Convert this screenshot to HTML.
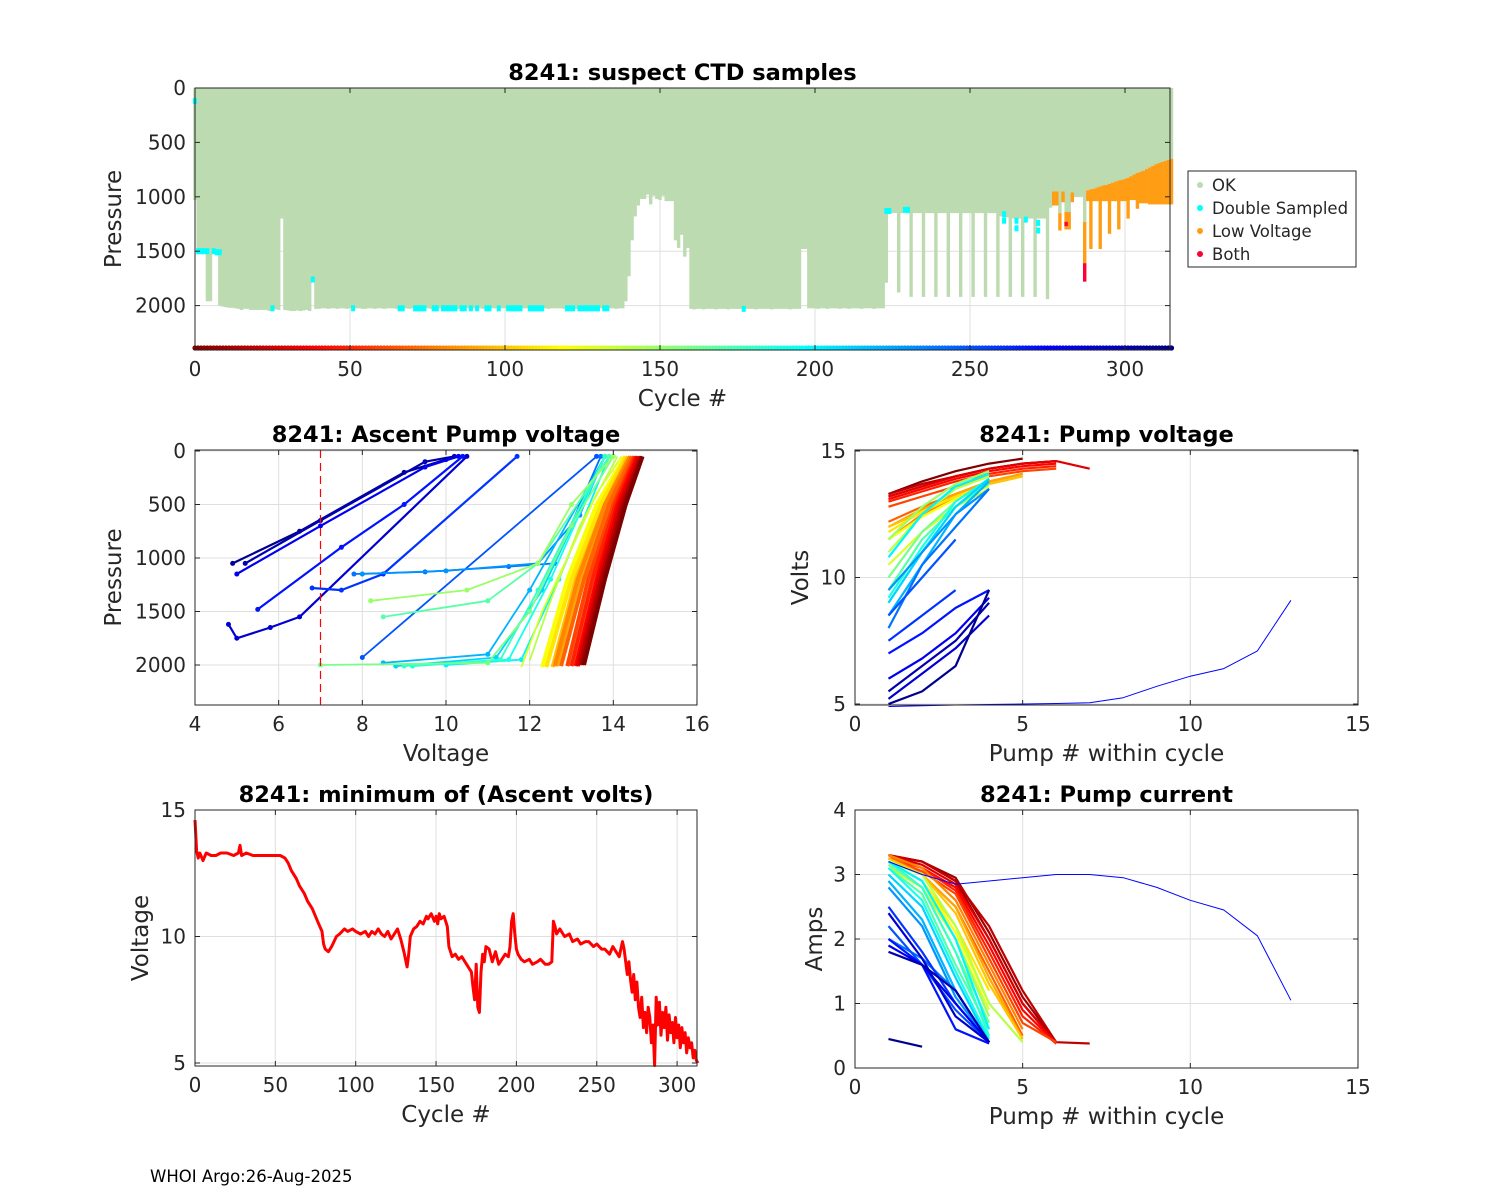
<!DOCTYPE html>
<html><head><meta charset="utf-8"><title>8241 float diagnostics</title>
<style>
html,body{margin:0;padding:0;background:#fff;}
svg{display:block;font-family:"DejaVu Sans","Liberation Sans",sans-serif;}
.tk{font-size:20px;fill:#262626;}
.ttl{font-size:22.5px;font-weight:bold;fill:#000;}
.lab{font-size:23px;fill:#262626;}
</style></head>
<body>
<svg id="fig" width="1500" height="1200" viewBox="0 0 1500 1200" xmlns="http://www.w3.org/2000/svg">
<rect x="0" y="0" width="1500" height="1200" fill="#fff"/>
<text x="150" y="1182" font-size="16.5" fill="#000">WHOI Argo:26-Aug-2025</text>
</svg>
<script>
// ---------- DATA ----------
const okDepth = [
1030,1500,1500,1500,1960,1960,1500,1500,2000,2010,
2015,2020,2020,2025,2030,2040,2030,2030,2040,2040,
2040,2040,2040,2040,2050,2040,2035,2040,1200,2040,
2045,2050,2050,2045,2050,2045,2040,2050,1770,2030,
2030,2025,2025,2030,2025,2025,2030,2025,2025,2030,
2025,2030,2025,2025,2030,2030,2025,2025,2030,2025,
2025,2030,2025,2025,2025,2030,2025,2025,2025,2030,
2025,2025,2030,2025,2025,2025,2030,2025,2025,2025,
2030,2025,2025,2025,2025,2030,2025,2025,2025,2030,
2025,2025,2025,2030,2025,2025,2025,2025,2030,2025,
2025,2030,2025,2025,2025,2030,2025,2025,2025,2025,
2030,2025,2025,2025,2030,2025,2025,2025,2025,2030,
2025,2025,2025,2030,2025,2025,2025,2025,2030,2025,
2025,2025,2030,2025,2025,2025,2030,2025,2025,1960,
1730,1400,1180,1080,1020,1020,980,1070,990,1020,
1030,990,1040,1040,1040,1400,1470,1350,1550,1470,
2030,2035,2030,2030,2035,2030,2030,2030,2035,2030,
2030,2030,2035,2030,2030,2030,2030,2035,2030,2030,
2030,2035,2030,2030,2030,2030,2035,2030,2030,2030,
2030,2030,2035,2030,2030,2030,1480,1480,2025,2025,
2025,2030,2025,2025,2030,2025,2025,2025,2030,2025,
2025,2030,2025,2025,2025,2030,2025,2025,2025,2030,
2025,2025,2025,1790,1150,1150,1150,1880,1150,1140,
1150,1920,1150,1150,1150,1920,1150,1150,1150,1920,
1150,1150,1150,1920,1150,1150,1150,1920,1150,1150,
1150,1920,1150,1150,1150,1920,1150,1150,1150,1920,
1180,1190,1190,1920,1200,1200,1200,1920,1200,1200,
1200,1920,1200,1200,1200,1940,1100,950,950,1150,
950,1140,1140,960,1000,1000,1000,1230,940,930,
925,915,905,895,890,880,870,860,850,845,
835,825,810,795,780,770,760,745,730,715,
700,690,680,670,660,650];
const lvCycle = [277,278,279,280,281,282,283,287,288,289,290,291,292,293,294,295,296,297,298,299,300,301,302,303,304,305,306,307,308,309,310,311,312,313,314,315];
const lvTop   = [950,950,1150,950,1140,1140,960,1230,940,930,925,915,905,895,890,880,870,860,850,845,835,825,810,795,780,770,760,745,730,715,700,690,680,670,660,650];
const lvBot   = [1080,1080,1310,1050,1300,1300,1050,1610,1040,1480,1040,1040,1480,1040,1040,1340,1040,1040,1300,1040,1040,1200,1030,1030,1110,1060,1060,1060,1070,1070,1070,1070,1070,1070,1070,1070];
const bothCycle = [281,287];
const bothTop = [1230,1610];
const bothBot = [1270,1780];
const dsCycle = [0,1,2,3,4,6,7,8,38,25,51,66,67,71,72,73,74,77,78,80,81,82,83,84,86,87,89,91,94,95,98,101,102,103,104,105,108,109,110,111,112,120,121,122,124,125,126,127,128,129,130,132,133,177,223,224,229,230,261,261,265,265,268,272,272];
const dsP     = [120,1500,1500,1500,1500,1500,1510,1510,1760,2025,2025,2025,2025,2025,2025,2025,2025,2025,2025,2025,2025,2025,2025,2025,2025,2025,2025,2025,2025,2025,2025,2025,2025,2025,2025,2025,2025,2025,2025,2025,2025,2025,2025,2025,2025,2025,2025,2025,2025,2025,2025,2025,2025,2030,1130,1130,1120,1120,1160,1220,1220,1290,1210,1240,1310];

const minCycles = [0,1,2,3,5,7,10,13,16,20,24,27,28,29,32,36,40,45,50,53,56,58,60,63,65,68,70,73,75,77,79,80,81,83,85,88,90,93,95,98,100,103,106,108,110,112,114,116,118,120,122,124,126,128,130,131,132,133,134,136,138,140,142,144,145,147,149,150,151,152,153,155,157,158,160,162,164,166,168,170,172,173,174,175,176,177,178,179,180,181,183,185,187,189,191,193,195,196,197,198,199,200,201,203,205,208,210,213,215,218,220,222,223,224,225,227,230,233,235,238,240,243,245,248,250,253,255,258,260,262,264,266,267,268,269,270,271,272,273,274,275,276,277,278,279,280,281,282,283,284,285,286,287,288,289,290,291,292,293,294,295,296,297,298,299,300,301,302,303,304,305,306,307,308,309,310,311,312,313,314,315];
const minVolts  = [14.6,13.4,13.1,13.3,13.0,13.3,13.2,13.2,13.3,13.3,13.2,13.3,13.6,13.2,13.3,13.2,13.2,13.2,13.2,13.2,13.1,12.9,12.6,12.3,12.0,11.7,11.4,11.1,10.8,10.5,10.2,9.7,9.5,9.4,9.6,10.0,10.1,10.3,10.2,10.3,10.2,10.1,10.2,10.0,10.2,10.1,10.3,10.1,10.0,10.2,9.9,10.1,10.3,9.9,9.4,9.1,8.8,9.3,10.0,10.3,10.4,10.6,10.5,10.8,10.7,10.9,10.6,10.8,10.5,10.9,10.7,10.8,10.4,9.6,9.2,9.3,9.1,9.2,9.0,8.8,8.6,8.0,7.5,8.9,7.2,7.0,8.6,9.3,9.0,9.6,9.5,9.0,9.4,8.9,9.1,9.3,9.2,9.6,10.6,10.9,10.1,9.5,9.3,9.1,9.0,9.1,8.9,9.0,9.1,8.9,8.9,9.0,10.6,10.4,10.1,10.3,10.0,10.1,9.8,9.9,9.7,9.8,9.8,9.6,9.7,9.5,9.5,9.3,9.6,9.4,9.2,9.8,9.5,9.0,8.5,9.0,8.3,7.8,8.5,7.5,8.2,7.2,6.8,7.6,6.4,7.0,6.2,7.2,6.8,5.8,6.5,4.9,7.6,6.5,7.4,6.1,7.0,6.4,7.2,5.9,6.9,6.2,6.6,5.8,6.8,6.0,6.5,5.6,6.4,5.8,6.2,5.4,6.0,5.6,5.8,5.2,5.5,5.1,5.0];

const profCycles = [0,10,20,30,40,50,60,70,80,90,100,110,120,130,140,150,160,170,180,190,200,210,220,230,240,250,260,270,280,290,300,310];
const ascProfiles = [
[[13.3,2000],[13.8,1200],[14.3,500],[14.7,50]],
[[13.25,2000],[13.75,1200],[14.25,500],[14.68,50]],
[[13.2,2000],[13.7,1200],[14.2,500],[14.65,50]],
[[13.15,2010],[13.65,1200],[14.15,500],[14.6,50]],
[[13.1,2010],[13.6,1200],[14.1,500],[14.57,50]],
[[13.0,2010],[13.5,1200],[14.05,500],[14.53,50]],
[[12.9,2010],[13.4,1200],[14.0,500],[14.5,50]],
[[12.75,2010],[13.3,1200],[13.9,500],[14.45,50]],
[[12.6,2010],[13.15,1200],[13.8,500],[14.4,50]],
[[12.65,2010],[13.2,1200],[13.85,500],[14.42,50]],
[[12.55,2020],[13.1,1200],[13.8,500],[14.35,50]],
[[12.4,2020],[13.0,1200],[13.7,500],[14.3,50]],
[[12.3,2020],[12.9,1200],[13.6,500],[14.28,50]],
[[11.8,2020],[12.3,1500],[12.9,1000],[13.6,400],[14.2,50]],
[[12.0,1960],[12.5,1400],[13.2,700],[14.1,50]],
[[8.2,1400],[10.5,1300],[12.2,1050],[13.0,500],[14.0,50]],
[[7.0,2000],[11.0,1980],[12.0,1500],[13.0,700],[14.0,50]],
[[8.5,1550],[11.0,1400],[12.2,1050],[13.9,50]],
[[9.0,2010],[11.3,1950],[12.2,1300],[13.8,50]],
[[9.2,2010],[11.5,1950],[12.5,1200],[13.8,50]],
[[10.0,2000],[11.8,1950],[12.7,1200],[13.9,50]],
[[8.8,2010],[11.2,1930],[12.3,1300],[13.8,50]],
[[8.5,1980],[11.0,1900],[12.0,1300],[13.8,50]],
[[8.0,1150],[10.0,1120],[12.2,1050],[13.2,600],[13.8,50]],
[[7.8,1150],[9.5,1130],[11.5,1080],[12.6,1050],[13.2,500],[13.7,50]],
[[8.0,1930],[13.6,50]],
[[6.8,1280],[7.5,1300],[8.5,1150],[11.7,50]],
[[5.5,1480],[7.5,900],[9.0,500],[10.4,50]],
[[5.0,1150],[7.0,700],[9.5,150],[10.3,50]],
[[4.8,1620],[5.0,1750],[5.8,1650],[6.5,1550],[10.5,50]],
[[5.2,1050],[7.0,650],[9.5,100],[10.2,50]],
[[4.9,1050],[6.5,750],[9.0,200],[10.0,80]]];
const pumpVolts = [
[13.3,13.8,14.2,14.5,14.7],[13.2,13.6,14.0,14.3,14.5,14.6],[13.3,13.7,14.0,14.3,14.5,14.6],
[13.2,13.6,14.0,14.3,14.5,14.6,14.3],[13.1,13.5,13.9,14.2,14.4,14.5],[13.0,13.4,13.8,14.1,14.3,14.4],
[12.8,13.2,13.6,14.0,14.2,14.3],[12.2,12.8,13.3,13.8,14.1],[11.5,12.5,13.2,13.7,14.0],
[12.0,12.7,13.3,13.8,14.1],[12.0,12.6,13.2,13.7,14.0],[11.8,12.6,13.2,13.7],[11.5,12.4,13.1,13.6],
[10.5,11.8,12.8,13.5],[11.0,12.5,13.5,14.0],[11.5,12.8,13.7,14.2],[10.0,11.8,13.0,13.9],
[9.5,11.5,12.8,13.7],[9.0,11.0,12.8,13.8],[9.2,11.2,13.0,13.9],[10.8,12.5,13.6,14.1],
[9.0,11.0,12.8,13.9],[8.5,10.5,12.5,13.8],[9.5,11.0,12.5,13.5],[8.0,10.5,12.0,13.5],
[8.5,10.0,11.5],[7.5,8.5,9.5],[7.0,7.8,8.8,9.5],[6.0,6.8,7.8,9.2],[5.2,6.2,7.2,8.5],
[5.5,6.5,7.5,9.0],[5.0,5.5,6.5,9.5]];
const pumpAmps = [
[3.3,3.2,2.9,2.0,1.0,0.4],[3.3,3.2,2.95,2.1,1.1,0.4],[3.3,3.2,2.9,2.2,1.2,0.4,0.38],
[3.3,3.15,2.85,2.0,1.0,0.38],[3.3,3.1,2.8,1.9,0.9,0.38],[3.25,3.1,2.75,1.8,0.8,0.38],
[3.25,3.05,2.7,1.7,0.7,0.4],[3.3,3.0,2.5,1.5,0.5],[3.3,3.1,2.6,1.6,0.6],[3.2,3.0,2.5,1.4,0.45],
[3.25,3.0,2.4,1.3,0.45],[3.2,2.9,2.2,1.2],[3.2,2.9,2.1,1.0],[3.1,2.8,2.0,0.9],
[3.2,3.0,2.2,1.0,0.4],[3.2,2.9,2.0,0.8],[3.15,2.8,1.8,0.7],[3.1,2.7,1.6,0.6],
[3.2,2.8,1.8,0.5],[3.1,2.6,1.5,0.45],[3.2,2.9,2.0,0.6],[3.0,2.5,1.4,0.4],[2.9,2.3,1.2,0.4],
[2.8,2.2,1.1,0.4],[2.0,1.7,1.2,0.4],[2.2,1.6,0.9,0.4],[2.5,1.8,1.0,0.4],[2.0,1.6,0.6,0.38],
[1.9,1.6,1.0,0.4],[2.4,1.7,0.8,0.4],[1.8,1.6,1.2,0.4],[0.45,0.33]];
const longCycle = 275;
const longVolts = [4.9,4.93,4.96,4.98,5.0,5.02,5.05,5.25,5.7,6.1,6.4,7.1,9.1];
const longAmps  = [3.2,3.0,2.85,2.9,2.95,3.0,3.0,2.95,2.8,2.6,2.45,2.05,1.05];

const topXTicks = [0,50,100,150,200,250,300];
const topYTicks = [0,500,1000,1500,2000];
const voltXTicks = [4,6,8,10,12,14,16];
const pumpXTicks = [0,5,10,15];
const voltYTicks = [5,10,15];
const ampYTicks = [0,1,2,3,4];
const cycXTicks = [0,50,100,150,200,250,300];
const legendLabels = ["OK","Double Sampled","Low Voltage","Both"];
const legendColors = ["#bddbb0","#00ffff","#ff9e14","#ff0033"];

// ---------- RENDER ----------
const NS = "http://www.w3.org/2000/svg";
const fig = document.getElementById("fig");
function mk(tag, attrs, parent){ const e=document.createElementNS(NS,tag); for(const k in attrs) e.setAttribute(k,attrs[k]); (parent||fig).appendChild(e); return e; }
function jet(t){ const c=v=>Math.max(0,Math.min(1,v)); const r=c(1.5-Math.abs(4*t-3)), g=c(1.5-Math.abs(4*t-2)), b=c(1.5-Math.abs(4*t-1)); return `rgb(${Math.round(r*255)},${Math.round(g*255)},${Math.round(b*255)})`; }
function cyc(c){ return jet(1 - c/315); }

function axes(name, x0,y0,x1,y1, xs, ys, xticks, yticks, title, xlab, ylab, ylabX){
  const g = mk("g",{});
  
  
  const grid = mk("g",{},g);
  
  
  xticks.forEach(v=>{ const X=xs(v); mk("line",{x1:X,x2:X,y1:y0,y2:y1,stroke:"#dfdfdf","stroke-width":1},grid); });
  yticks.forEach(v=>{ const Y=ys(v); mk("line",{x1:x0,x2:x1,y1:Y,y2:Y,stroke:"#dfdfdf","stroke-width":1},grid); });
  const data = mk("g",{},g);
  
  
  const over = mk("g",{},g);
  
  
  return {g, data, over, finish(){
    mk("rect",{x:x0,y:y0,width:x1-x0,height:y1-y0,fill:"none",stroke:"#262626","stroke-width":1},over);
    xticks.forEach(v=>{ const X=xs(v);
      mk("line",{x1:X,x2:X,y1:y1,y2:y1-5,stroke:"#262626"},over);
      mk("line",{x1:X,x2:X,y1:y0,y2:y0+5,stroke:"#262626"},over);
      const t=mk("text",{x:X,y:y1+26,"text-anchor":"middle",class:"tk"},over); t.textContent=v;
      
      
    });
    yticks.forEach(v=>{ const Y=ys(v);
      mk("line",{x1:x0,x2:x0+5,y1:Y,y2:Y,stroke:"#262626"},over);
      mk("line",{x1:x1,x2:x1-5,y1:Y,y2:Y,stroke:"#262626"},over);
      const t=mk("text",{x:x0-9,y:Y+7,"text-anchor":"end",class:"tk"},over); t.textContent=v;
      
      
    });
    const tt=mk("text",{x:(x0+x1)/2,y:y0-8,"text-anchor":"middle",class:"ttl"},over); tt.textContent=title;
    
    
    const xl=mk("text",{x:(x0+x1)/2,y:y1+56,"text-anchor":"middle",class:"lab"},over); xl.textContent=xlab;
    
    
    const cy=(y0+y1)/2;
    const yl=mk("text",{x:ylabX,y:cy,"text-anchor":"middle",class:"lab",transform:`rotate(-90 ${ylabX} ${cy})`},over); yl.textContent=ylab;
    
    
  }};
}
function poly(parent, pts, color, w){ const e=mk("polyline",{points:pts.map(p=>p[0].toFixed(1)+","+p[1].toFixed(1)).join(" "),fill:"none",stroke:color,"stroke-width":w,"stroke-linejoin":"round"},parent); return e; }

// ===== Top panel =====
const xT = c => 195 + c*3.1;
const yT = p => 88 + p*0.1088;
const A1 = axes("suspect-ctd-chart",195,88,1170,350,xT,yT,topXTicks,topYTicks,"8241: suspect CTD samples","Cycle #","Pressure",121);
okDepth.forEach((d,c)=>{
  const r=mk("rect",{x:xT(c)-1.7,y:yT(0),width:3.4,height:yT(d)-yT(0),fill:"#bddbb0"},A1.data);
  
  
});
lvCycle.forEach((c,i)=>{
  const r=mk("rect",{x:xT(c)-1.7,y:yT(lvTop[i]),width:3.4,height:yT(lvBot[i])-yT(lvTop[i]),fill:"#ff9e14"},A1.data);
  
  
});
bothCycle.forEach((c,i)=>{
  const r=mk("rect",{x:xT(c)-1.7,y:yT(bothTop[i]),width:3.4,height:yT(bothBot[i])-yT(bothTop[i]),fill:"#ff0033"},A1.data);
  
  
});
dsCycle.forEach((c,i)=>{
  const r=mk("rect",{x:xT(c)-2,y:yT(dsP[i])-3,width:4,height:6,fill:"#00ffff"},A1.data);
  
  
});
okDepth.forEach((d,c)=>{
  const r=mk("circle",{cx:xT(c),cy:348,r:2.6,fill:cyc(c)},A1.data);
  
  
});
A1.finish();
const lg = mk("g",{});


mk("rect",{x:1188,y:171,width:168,height:96,fill:"#fff",stroke:"#262626","stroke-width":1},lg);
legendLabels.forEach((l,i)=>{
  const y=185+i*23;
  const e=mk("g",{},lg);
  
  
  mk("circle",{cx:1200,cy:y,r:3,fill:legendColors[i]},e);
  const t=mk("text",{x:1212,y:y+6,"font-size":"16.5",fill:"#262626"},e); t.textContent=l;
});

// ===== Middle-left =====
const xL = v => 195 + (v-4)*41.83;
const yL = p => 451 + p*0.107;
const A2 = axes("ascent-pump-voltage-chart",195,450,697,705,xL,yL,voltXTicks,topYTicks,"8241: Ascent Pump voltage","Voltage","Pressure",121);
for(let i=ascProfiles.length-1;i>=0;i--){
  const c=profCycles[i], pr=ascProfiles[i];
  const w = c<130 ? 4 : (c>=260 ? 2.2 : 1.8);
  const e=poly(A2.data, pr.map(q=>[xL(q[0]),yL(q[1])]), cyc(c), w);
  
  
  if(c>=150){ pr.forEach(q=>{ const d=mk("circle",{cx:xL(q[0]),cy:yL(q[1]),r:2.5,fill:cyc(c)},A2.data);
    
     }); }
}
const dash=mk("line",{x1:xL(7),x2:xL(7),y1:450,y2:705,stroke:"#ff0000","stroke-width":1.2,"stroke-dasharray":"8,5"},A2.data);


A2.finish();

// ===== Middle-right =====
const xR = n => 855 + n*33.53;
const yR = v => 704 - (v-5)*25.3;
const A3 = axes("pump-voltage-chart",855,450,1358,705,xR,yR,pumpXTicks,voltYTicks,"8241: Pump voltage","Pump # within cycle","Volts",808);
for(let i=0;i<profCycles.length;i++){
  const e=poly(A3.data, pumpVolts[i].map((v,k)=>[xR(k+1),yR(v)]), cyc(profCycles[i]), 2.2);
  
  
}
{ const e=poly(A3.data, longVolts.map((v,k)=>[xR(k+1),yR(v)]), cyc(longCycle), 1);
  
   }
A3.finish();

// ===== Bottom-left =====
const xB = c => 195 + c*1.607;
const yB = v => 1063 - (v-5)*25.3;
const A4 = axes("minimum-ascent-volts-chart",195,810,697,1066,xB,yB,cycXTicks,voltYTicks,"8241: minimum of (Ascent volts)","Cycle #","Voltage",148);
{ const e=poly(A4.data, minCycles.map((c,i)=>[xB(c),yB(minVolts[i])]), "#ff0000", 3);
  
   }
A4.finish();

// ===== Bottom-right =====
const xC = n => 855 + n*33.53;
const yC = a => 1068 - a*64.5;
const A5 = axes("pump-current-chart",855,810,1358,1068,xC,yC,pumpXTicks,ampYTicks,"8241: Pump current","Pump # within cycle","Amps",822);
for(let i=0;i<profCycles.length;i++){
  const e=poly(A5.data, pumpAmps[i].map((v,k)=>[xC(k+1),yC(v)]), cyc(profCycles[i]), 2.2);
  
  
}
{ const e=poly(A5.data, longAmps.map((v,k)=>[xC(k+1),yC(v)]), cyc(longCycle), 1);
  
   }
A5.finish();
</script>
</body></html>
